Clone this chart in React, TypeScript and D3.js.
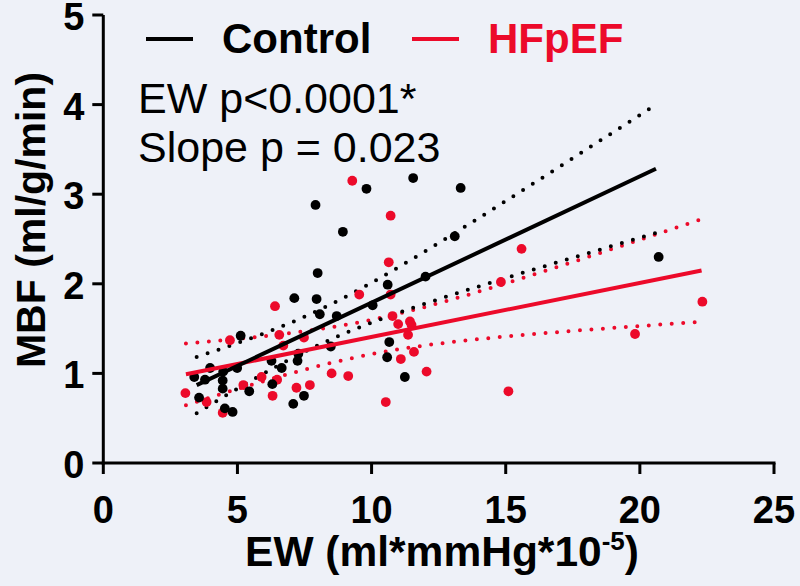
import React from 'react';
import * as d3 from 'd3';

const xTicks = [0, 5, 10, 15, 20, 25];
const yTicks = [0, 1, 2, 3, 4, 5];

const controlEW = [9.81, 11.55, 13.32, 7.91, 8.93, 13.1, 7.99, 12.01, 10.6, 7.12, 7.95, 10.04, 8.07, 8.7, 20.7, 8.48, 10.66, 10.58, 11.24, 5.12, 7.27, 6.27, 7.24, 3.98, 4.99, 4.47, 6.65, 3.39, 3.79, 4.45, 4.45, 6.3, 5.44, 3.57, 7.48, 7.08, 4.53, 4.82];
const controlMBF = [3.06, 3.18, 3.07, 2.88, 2.58, 2.53, 2.12, 2.08, 1.99, 1.84, 1.83, 1.76, 1.66, 1.64, 2.3, 1.3, 1.35, 1.18, 0.96, 1.42, 1.22, 1.14, 1.14, 1.06, 1.06, 1.02, 1.06, 0.96, 0.93, 0.92, 0.83, 0.88, 0.8, 0.73, 0.75, 0.66, 0.61, 0.57];

const hfpefEW = [9.28, 10.71, 10.64, 15.59, 14.82, 9.54, 10.71, 6.4, 10.78, 10.99, 11.43, 11.49, 11.36, 7.48, 6.56, 4.72, 6.71, 22.33, 19.82, 11.09, 11.58, 12.05, 10.53, 15.1, 8.51, 9.13, 7.7, 7.2, 5.9, 6.48, 5.22, 3.06, 3.85, 6.31, 4.45];
const hfpefMBF = [3.15, 2.76, 2.24, 2.39, 2.02, 1.88, 1.88, 1.75, 1.64, 1.55, 1.58, 1.54, 1.43, 1.4, 1.43, 1.37, 1.31, 1.8, 1.44, 1.16, 1.24, 1.02, 0.68, 0.8, 1.0, 0.97, 0.87, 0.84, 0.96, 0.93, 0.87, 0.78, 0.68, 0.75, 0.56];

// regression: [intercept, slope]
const controlFit = [0.379, 0.141];
const hfpefFit = [0.804, 0.0603];
const controlFitRange = [3.48, 20.6];
const hfpefFitRange = [3.08, 22.3];
// 95% CI band: [mean EW, a, b] -> half width = sqrt(a + b*(x-mean)^2)
const controlBand = [8.0, 0.0376, 0.003];
const hfpefBand = [9.74, 0.0367, 0.00185];

const BLACK = '#000000';
const RED = '#ec0a2a';
const BG = '#eef1f8';
const FONT = "'Liberation Sans', Arial, Helvetica, sans-serif";

export default function App() {
  const W = 800;
  const H = 586;
  const x = d3.scaleLinear().domain([0, 25]).range([103.3, 774]);
  const y = d3.scaleLinear().domain([0, 5]).range([463, 15]);

  const line = d3
    .line<[number, number]>()
    .x((d) => x(d[0]))
    .y((d) => y(d[1]));

  const fitPath = (fit: number[], range: number[]) =>
    line([
      [range[0], fit[0] + fit[1] * range[0]],
      [range[1], fit[0] + fit[1] * range[1]],
    ]);

  const bandPath = (fit: number[], band: number[], range: number[], sign: number) => {
    const xs = d3.range(range[0], range[1] + 1e-9, (range[1] - range[0]) / 80);
    return line(
      xs.map((v) => {
        const hw = Math.sqrt(band[1] + band[2] * (v - band[0]) ** 2);
        return [v, fit[0] + fit[1] * v + sign * hw] as [number, number];
      })
    );
  };

  const dotted = { fill: 'none', strokeWidth: 4, strokeLinecap: 'round' as const, strokeDasharray: '0 11.5' };

  return (
    <svg width={W} height={H} style={{ position: 'absolute', left: 0, top: 0, background: BG }}>
      <rect x={0} y={0} width={W} height={H} fill={BG} />

      {/* confidence bands */}
      <path d={bandPath(hfpefFit, hfpefBand, hfpefFitRange, 1) || ''} stroke={RED} {...dotted} />
      <path d={bandPath(hfpefFit, hfpefBand, hfpefFitRange, -1) || ''} stroke={RED} {...dotted} />
      <path d={bandPath(controlFit, controlBand, controlFitRange, 1) || ''} stroke={BLACK} {...dotted} />
      <path d={bandPath(controlFit, controlBand, controlFitRange, -1) || ''} stroke={BLACK} {...dotted} />

      {/* points */}
      {hfpefEW.map((v, i) => (
        <circle key={'h' + i} cx={x(v)} cy={y(hfpefMBF[i])} r={4.9} fill={RED} />
      ))}
      {controlEW.map((v, i) => (
        <circle key={'c' + i} cx={x(v)} cy={y(controlMBF[i])} r={4.9} fill={BLACK} />
      ))}

      {/* fit lines */}
      <path d={fitPath(hfpefFit, hfpefFitRange) || ''} stroke={RED} strokeWidth={4} fill="none" />
      <path d={fitPath(controlFit, controlFitRange) || ''} stroke={BLACK} strokeWidth={4} fill="none" />

      {/* axes */}
      <g stroke={BLACK} strokeWidth={3} fill="none">
        <line x1={x(0)} x2={x(0)} y1={y(5)} y2={y(0) + 1.5} />
        <line x1={x(0) - 1.5} x2={x(25) + 1.5} y1={y(0)} y2={y(0)} />
        {yTicks.map((t) => (
          <line key={'yt' + t} x1={x(0) - 11} x2={x(0)} y1={y(t)} y2={y(t)} />
        ))}
        {xTicks.map((t) => (
          <line key={'xt' + t} x1={x(t)} x2={x(t)} y1={y(0)} y2={y(0) + 11} />
        ))}
      </g>
      <g fontFamily={FONT} fontWeight="bold" fontSize={38} fill={BLACK}>
        {yTicks.map((t) => (
          <text key={'yl' + t} x={x(0) - 19} y={y(t) + 15} textAnchor="end">
            {t}
          </text>
        ))}
        {xTicks.map((t) => (
          <text key={'xl' + t} x={x(t)} y={523} textAnchor="middle">
            {t}
          </text>
        ))}
      </g>

      {/* axis titles */}
      <text x={442} y={566} textAnchor="middle" fontFamily={FONT} fontWeight="bold" fontSize={42.5} fill={BLACK}>
        EW (ml*mmHg*10<tspan dy={-16} fontSize={26}>-5</tspan>
        <tspan dy={16}>)</tspan>
      </text>
      <text
        transform={`translate(45, 220) rotate(-90)`}
        textAnchor="middle"
        fontFamily={FONT}
        fontWeight="bold"
        fontSize={41}
        fill={BLACK}
      >
        MBF (ml/g/min)
      </text>

      {/* legend */}
      <line x1={146} x2={193} y1={39} y2={39} stroke={BLACK} strokeWidth={4} />
      <text x={222} y={53} fontFamily={FONT} fontWeight="bold" fontSize={42} fill={BLACK}>
        Control
      </text>
      <line x1={412} x2={459} y1={39} y2={39} stroke={RED} strokeWidth={4} />
      <text x={488} y={53} fontFamily={FONT} fontWeight="bold" fontSize={42} fill={RED}>
        HFpEF
      </text>

      {/* stats */}
      <text x={138} y={113} fontFamily={FONT} fontSize={43} fill={BLACK}>
        EW p&lt;0.0001*
      </text>
      <text x={138} y={162} fontFamily={FONT} fontSize={43} fill={BLACK}>
        Slope p = 0.023
      </text>
    </svg>
  );
}
